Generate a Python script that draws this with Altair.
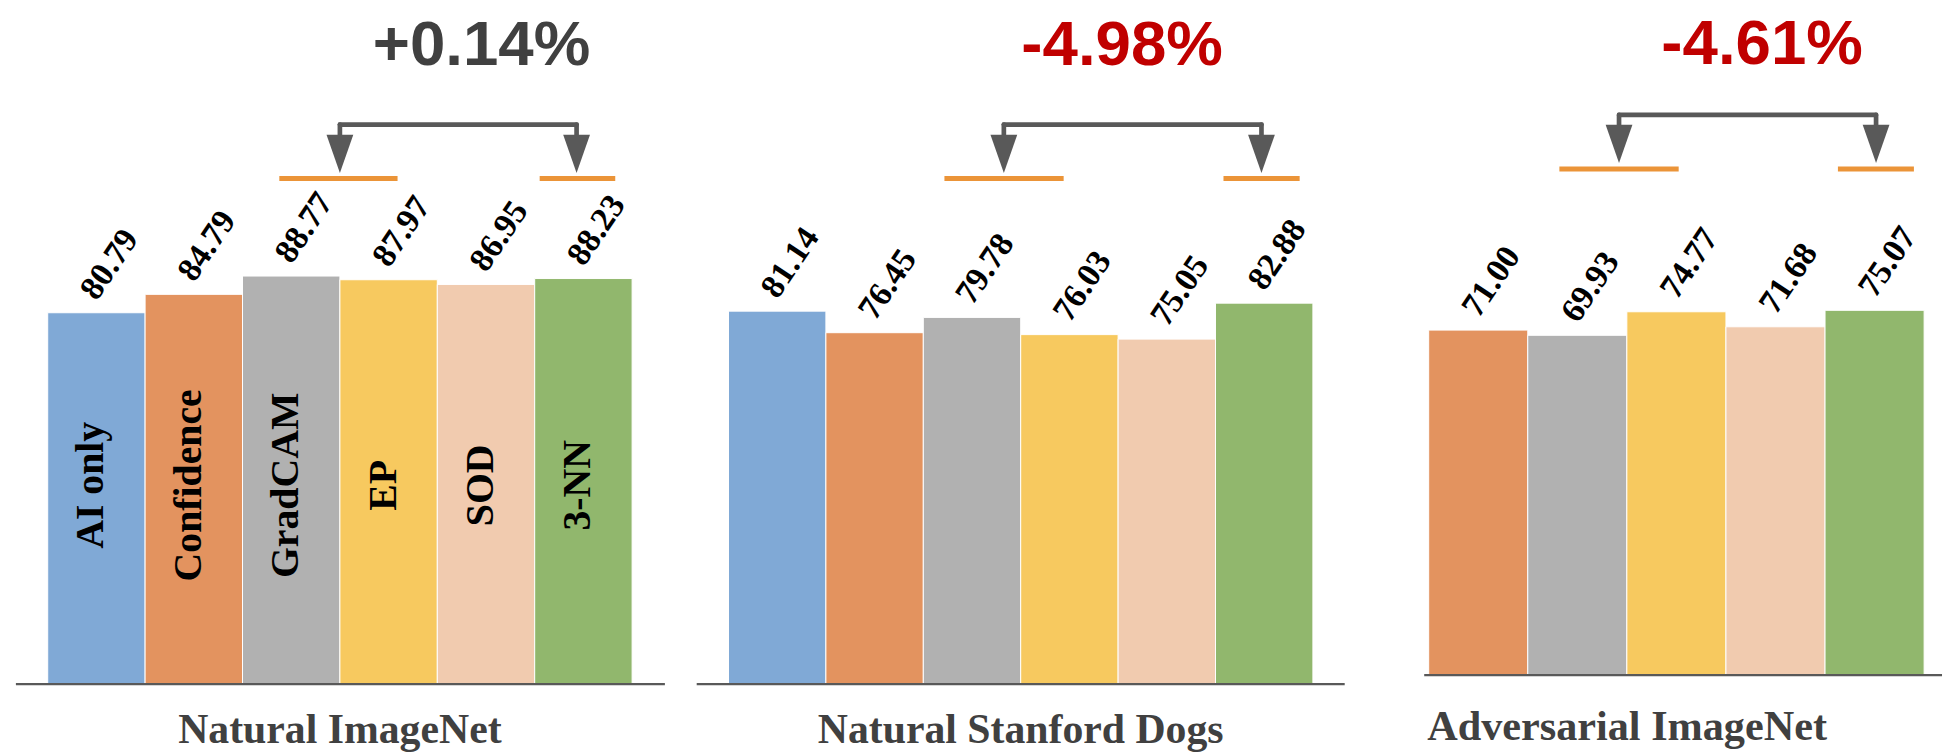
import altair as alt
import pandas as pd

# ---- data -------------------------------------------------------------
methods = ["AI only", "Confidence", "GradCAM", "EP", "SOD", "3-NN"]
bar_colors = ["#80A9D6", "#E3935F", "#B1B1B1", "#F7C95F", "#F1CBAF", "#91B76D"]

natural_imagenet = [80.79, 84.79, 88.77, 87.97, 86.95, 88.23]
natural_dogs = [81.14, 76.45, 79.78, 76.03, 75.05, 82.88]
adversarial_methods = ["Confidence", "GradCAM", "EP", "SOD", "3-NN"]
adversarial_imagenet = [71.00, 69.93, 74.77, 71.68, 75.07]

dataset_titles = ["Natural ImageNet", "Natural Stanford Dogs", "Adversarial ImageNet"]
deltas = ["+0.14%", "-4.98%", "-4.61%"]
delta_colors = ["#404040", "#C00000", "#C00000"]

# ---- styling ----------------------------------------------------------
SERIF = "Liberation Serif"
SANS = "Liberation Sans"
DARK = "#595959"
ORANGE = "#EB9438"
TITLE_GRAY = "#404040"

# per-panel geometry (x in bar slots, y of decorations in pixels)
layouts = [
    dict(width=653, xdom=[-0.32653, 6.33673], ydom=[-14.486, 148.324],
         arrows=[3.0, 5.43], bracket_y=123, tri_y=152.4, orange_y=177.3,
         orange=[(2.378, 3.592), (5.051, 5.827)],
         delta_x=4.454, delta_y=63, title_x=3.0, title_align="center",
         title_y=745, title_size=42, method_labels=True),
    dict(width=652, xdom=[-0.32653, 6.32653], ydom=[-14.486, 148.324],
         arrows=[2.827, 5.472], bracket_y=123, tri_y=152.4, orange_y=177.3,
         orange=[(2.217, 3.441), (5.082, 5.864)],
         delta_x=4.041, delta_y=63, title_x=3.0, title_align="center",
         title_y=745, title_size=42, method_labels=False),
    dict(width=521, xdom=[-0.04514, 5.18054], ydom=[-15.542, 138.446],
         arrows=[1.921, 4.515], bracket_y=113.3, tri_y=142.4, orange_y=167.7,
         orange=[(1.319, 2.523), (4.130, 4.897)],
         delta_x=3.365, delta_y=62, title_x=-0.015, title_align="left",
         title_y=742, title_size=42.5, method_labels=False),
]

ARROW_PATH = "M -0.7 -1 L 0.7 -1 L 0 1 Z"


def make_panel(panel_methods, values, title, delta, delta_color, lay):
    df = pd.DataFrame({"method": panel_methods, "value": values})
    df["slot"] = list(range(len(values)))
    df["slot_end"] = df["slot"] + 1
    df["mid"] = df["slot"] + 0.5
    df["label"] = [f"{v:.2f}" for v in values]

    xs = alt.Scale(domain=lay["xdom"], nice=False, zero=False)
    ys = alt.Scale(domain=lay["ydom"], nice=False, zero=False)
    one = pd.DataFrame({"k": [0]})

    bars = alt.Chart(df).mark_bar(stroke="white", strokeWidth=1).encode(
        x=alt.X("slot:Q", scale=xs, axis=None),
        x2="slot_end:Q",
        y=alt.Y("value:Q", scale=ys, axis=None),
        y2=alt.datum(0),
        color=alt.Color("method:N", scale=alt.Scale(domain=methods, range=bar_colors), legend=None),
    )

    baseline = alt.Chart(one).mark_rule(color=DARK, strokeWidth=2.3).encode(
        x=alt.datum(lay["xdom"][0]), x2=alt.datum(lay["xdom"][1]), y=alt.datum(0)
    )

    value_labels = alt.Chart(df).mark_text(
        angle=304, align="left", baseline="middle", dx=9.4, dy=-15.9,
        font=SERIF, fontWeight="bold", fontSize=34, color="black",
    ).encode(x=alt.X("mid:Q", scale=xs), y=alt.Y("value:Q", scale=ys), text="label:N")

    layers = [bars, baseline, value_labels]

    if lay["method_labels"]:
        layers.append(
            alt.Chart(df).mark_text(
                angle=270, align="center", baseline="middle", dy=-5,
                font=SERIF, fontWeight="bold", fontSize=40, color="black",
            ).encode(x=alt.X("mid:Q", scale=xs), y=alt.value(486), text="method:N")
        )

    seg = pd.DataFrame({"x0": [a for a, _ in lay["orange"]], "x1": [b for _, b in lay["orange"]]})
    layers.append(
        alt.Chart(seg).mark_rule(color=ORANGE, strokeWidth=5).encode(
            x=alt.X("x0:Q", scale=xs), x2="x1:Q", y=alt.value(lay["orange_y"])
        )
    )

    arrows = pd.DataFrame({"ax": lay["arrows"]})
    by = lay["bracket_y"]
    layers.append(
        alt.Chart(arrows).mark_rule(color=DARK, strokeWidth=4.7, strokeCap="round").encode(
            x=alt.X("ax:Q", scale=xs), y=alt.value(by), y2=alt.value(by + 13)
        )
    )
    layers.append(
        alt.Chart(one).mark_rule(color=DARK, strokeWidth=4.7, strokeCap="round").encode(
            x=alt.datum(lay["arrows"][0]), x2=alt.datum(lay["arrows"][1]), y=alt.value(by)
        )
    )
    layers.append(
        alt.Chart(arrows).mark_point(
            shape=ARROW_PATH, size=38.5 ** 2, filled=True, color=DARK, opacity=1, strokeWidth=0
        ).encode(x=alt.X("ax:Q", scale=xs), y=alt.value(lay["tri_y"]))
    )

    layers.append(
        alt.Chart(one).mark_text(
            text=delta, align="center", baseline="alphabetic",
            font=SANS, fontWeight="bold", fontSize=64, color=delta_color,
        ).encode(x=alt.datum(lay["delta_x"]), y=alt.value(lay["delta_y"]))
    )

    layers.append(
        alt.Chart(one).mark_text(
            text=title, align=lay["title_align"], baseline="alphabetic",
            font=SERIF, fontWeight="bold", fontSize=lay["title_size"], color=TITLE_GRAY,
        ).encode(x=alt.datum(lay["title_x"]), y=alt.value(lay["title_y"]))
    )

    return alt.layer(*layers).properties(width=lay["width"], height=753)


p1 = make_panel(methods, natural_imagenet, dataset_titles[0], deltas[0], delta_colors[0], layouts[0])
p2 = make_panel(methods, natural_dogs, dataset_titles[1], deltas[1], delta_colors[1], layouts[1])
p3 = make_panel(adversarial_methods, adversarial_imagenet, dataset_titles[2], deltas[2], delta_colors[2], layouts[2])

chart = (
    alt.hconcat(alt.hconcat(p1, p2, spacing=28), p3, spacing=76)
    .properties(padding={"left": 14, "right": 0, "top": 0, "bottom": 0}, background="white")
    .configure_view(stroke=None)
)

chart.save("out.html", embed_options={"renderer": "svg", "actions": False})
